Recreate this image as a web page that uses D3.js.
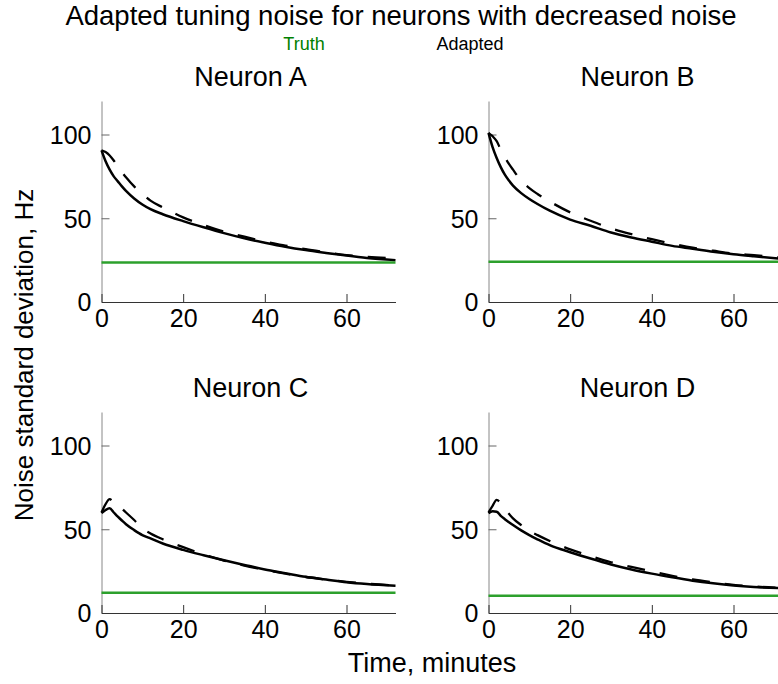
<!DOCTYPE html>
<html><head><meta charset="utf-8">
<script src="https://cdn.jsdelivr.net/npm/d3@7"></script>
<style>
body{margin:0;background:#fff;}
svg{display:block;font-family:"Liberation Sans",Arial,sans-serif;}
</style></head>
<body><svg id="chart" width="778" height="684"></svg>
<script>
const times = [0,1,2,3,4,5,6,8,10,12,15,20,25,30,35,40,45,50,55,60,65,72];
const neuronNames = ["Neuron A","Neuron B","Neuron C","Neuron D"];
const adaptedA = [90.5,84,79,75,72,69,66.3,61.8,58.2,55.4,52.4,48.3,44.6,41.1,38,35.4,33,31,29.3,27.7,26.3,25];
const dashedA  = [90.5,89.5,87.5,84.5,81,77.5,74.5,69,64.5,60.5,56.5,50.5,46,42,39,36,33.7,31.5,29.7,28,27,26];
const adaptedB = [101,92.5,86,80.5,76,72.5,69.5,65,61.5,58.5,54.5,49.2,45.5,41.5,38.5,36,33.5,31.8,30,28.5,27.3,25.8];
const dashedB  = [101,99,96,91,86.5,82.5,79,72.5,68,64.5,60,53.5,48.5,44,40.5,37.5,34.8,32.4,30.6,28.9,28,26.5];
const adaptedC = [59.6,61.5,62.5,60,57.5,55.2,53,49.5,46.5,44.5,41.5,37.7,34.5,31.5,28.7,26,23.8,21.6,20,18.4,17.3,16.3];
const dashedC  = [60,65,68,66,64.5,62.3,60,55.5,50.5,47.5,44,39.3,35,31.3,28.3,25.8,23.5,21.5,20,18.6,17.5,16.5];
const adaptedD = [59.6,60.8,60.5,58,56,54.2,52.5,49.3,46.5,44,40.5,36.3,32.5,29,26,23.5,21.3,19.3,17.7,16.4,15.5,14.8];
const dashedD  = [60,64,67.5,65.5,62,59.2,56.5,52.5,49,46.5,43,38,34,30.3,27.5,24.8,22.2,20,18.3,16.8,15.8,15];
const truthValues = [23.6,24,12.1,10.3];
const xTicks = [0,20,40,60];
const yTicks = [0,50,100];

const solidSeries = [adaptedA,adaptedB,adaptedC,adaptedD];
const dashedSeries = [dashedA,dashedB,dashedC,dashedD];

const svg = d3.select("#chart");
const font = '"Liberation Sans",Arial,sans-serif';

svg.append("text").attr("x",401).attr("y",25).attr("text-anchor","middle")
  .attr("font-size",27.5).text("Adapted tuning noise for neurons with decreased noise");
svg.append("text").attr("x",304).attr("y",50).attr("text-anchor","middle")
  .attr("font-size",18).attr("fill","#008000").text("Truth");
svg.append("text").attr("x",470).attr("y",50).attr("text-anchor","middle")
  .attr("font-size",18).attr("fill","#000").text("Adapted");

const panels = [
  {x0:101.5, y0:101, y1:302},
  {x0:488.5, y0:101, y1:302},
  {x0:101.5, y0:412, y1:613},
  {x0:488.5, y0:412, y1:613}
];
const pw = 294;

panels.forEach((p,i)=>{
  const x = d3.scaleLinear().domain([0,72]).range([p.x0, p.x0+pw]);
  const y = d3.scaleLinear().domain([0,120]).range([p.y1, p.y0]);
  const g = svg.append("g");

  const ya = g.append("g").attr("transform",`translate(${p.x0},0)`)
    .call(d3.axisLeft(y).tickValues(yTicks).tickSizeInner(-8).tickSizeOuter(0).tickPadding(10));
  ya.select(".domain").attr("stroke","#888");
  ya.selectAll(".tick line").attr("stroke","#666");
  ya.selectAll("text").attr("font-size",25).attr("font-family",font).attr("fill","#000").attr("dy","0.35em");

  const xa = g.append("g").attr("transform",`translate(0,${p.y1})`)
    .call(d3.axisBottom(x).tickValues(xTicks).tickSizeInner(-8).tickSizeOuter(0).tickPadding(0));
  xa.select(".domain").attr("stroke","#333");
  xa.selectAll(".tick line").attr("stroke","#333");
  xa.selectAll("text").attr("font-size",25).attr("font-family",font).attr("fill","#000").attr("dy",null).attr("y",25);

  g.append("path").datum([0,72])
    .attr("d", d3.line().x(d=>x(d)).y(()=>y(truthValues[i])))
    .attr("stroke","#2ca02c").attr("stroke-width",2.6).attr("fill","none");

  const line = d3.line().x((d,j)=>x(times[j])).y(d=>y(d)).curve(d3.curveMonotoneX);
  g.append("path").datum(dashedSeries[i]).attr("d",line)
    .attr("stroke","#000").attr("stroke-width",2.3).attr("fill","none")
    .attr("stroke-dasharray","18,15");
  g.append("path").datum(solidSeries[i]).attr("d",line)
    .attr("stroke","#000").attr("stroke-width",2.5).attr("fill","none");

  svg.append("text").attr("x",p.x0+pw/2+2).attr("y",p.y0-15).attr("text-anchor","middle")
    .attr("font-size",27).text(neuronNames[i]);
});

svg.append("text").attr("transform","translate(33,355) rotate(-90)").attr("text-anchor","middle")
  .attr("font-size",26).text("Noise standard deviation, Hz");
svg.append("text").attr("x",432).attr("y",672).attr("text-anchor","middle")
  .attr("font-size",27).text("Time, minutes");
</script></body></html>
